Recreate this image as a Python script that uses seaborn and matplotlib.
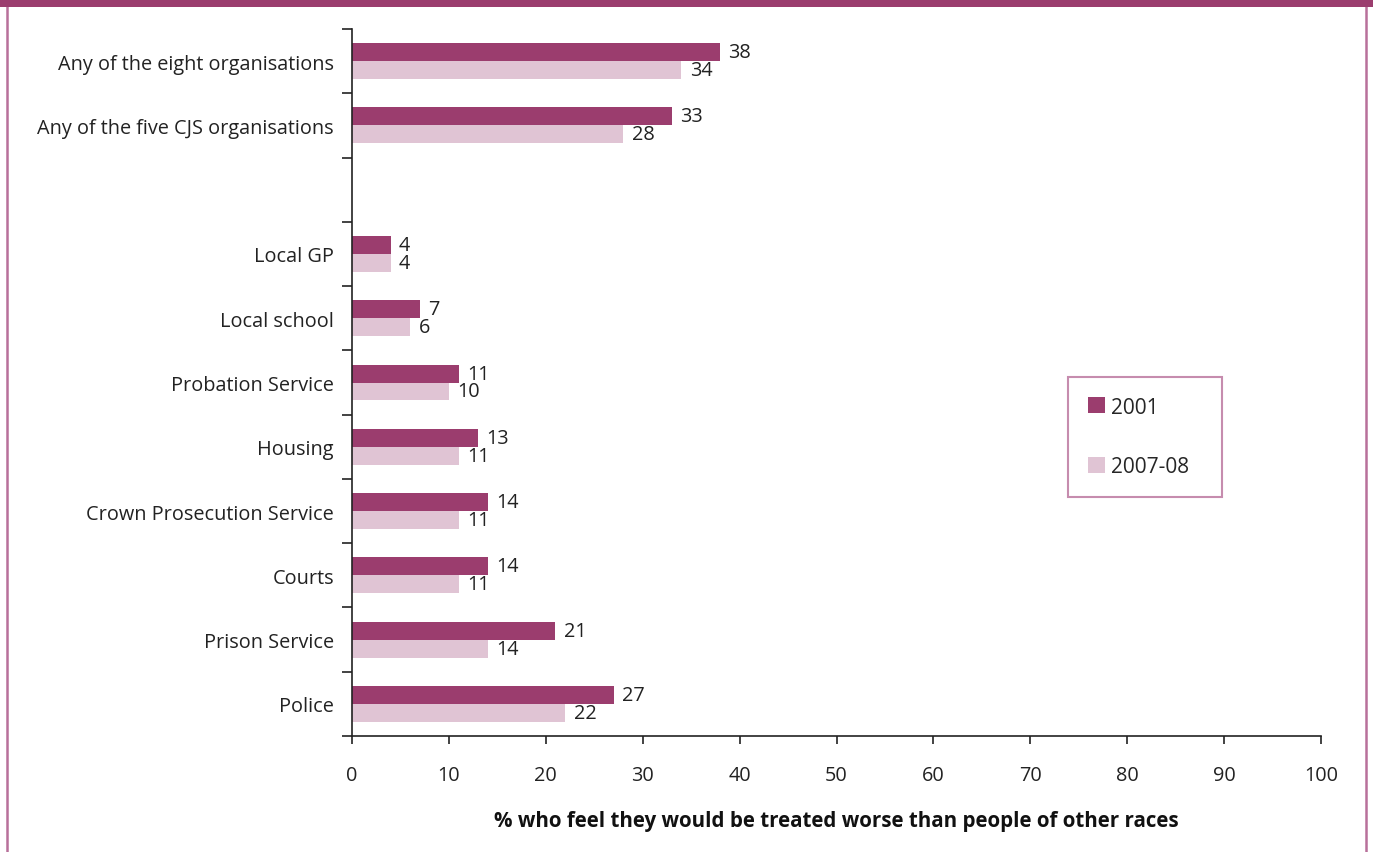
import matplotlib
matplotlib.use("Agg")
import matplotlib.pyplot as plt
from matplotlib.patches import Rectangle
from matplotlib.lines import Line2D
from matplotlib.ticker import FixedLocator
import seaborn as sns
import pandas as pd

categories = [
    "Any of the eight organisations",
    "Any of the five CJS organisations",
    "",
    "Local GP",
    "Local school",
    "Probation Service",
    "Housing",
    "Crown Prosecution Service",
    "Courts",
    "Prison Service",
    "Police",
]
values_2001 = [38, 33, None, 4, 7, 11, 13, 14, 14, 21, 27]
values_2007 = [34, 28, None, 4, 6, 10, 11, 11, 11, 14, 22]
series = ["2001", "2007-08"]
xticks = [0, 10, 20, 30, 40, 50, 60, 70, 80, 90, 100]
xlabel = "% who feel they would be treated worse than people of other races"

dark = "#9B3D6E"
light = "#E0C4D4"
frame_col = "#B8709A"

rows = []
for c, a, b in zip(categories, values_2001, values_2007):
    if a is not None:
        rows.append({"cat": c, "series": series[0], "val": a})
    if b is not None:
        rows.append({"cat": c, "series": series[1], "val": b})
df = pd.DataFrame(rows)

sns.set_theme(style="white")
plt.rcParams["font.family"] = ["Open Sans", "DejaVu Sans"]

fig = plt.figure(figsize=(13.73, 8.53), dpi=100)
ax = fig.add_axes([352 / 1373, 1 - 737 / 853, (1321 - 352) / 1373, (737 - 30) / 853])

sns.barplot(data=df, x="val", y="cat", hue="series", order=categories,
            hue_order=series, palette=[dark, light], orient="h",
            width=0.56, gap=0, saturation=1, ax=ax, legend=True,
            errorbar=None, linewidth=0)

for cont in ax.containers:
    ax.bar_label(cont, fmt="{:.0f}", padding=6, fontsize=14.3, color="#222222")

ax.set_xlim(0, 100)
ax.set_ylim(len(categories) - 0.5, -0.5)
ax.set_xticks(xticks)
ax.set_xticklabels([str(t) for t in xticks])
ax.yaxis.set_minor_locator(FixedLocator([i - 0.5 for i in range(len(categories) + 1)]))
ax.tick_params(axis="y", which="major", length=0, pad=13, labelsize=14.3, labelcolor="#222222")
ax.tick_params(axis="y", which="minor", length=7, width=1.2, color="#222222", left=True, direction="out")
ax.tick_params(axis="x", which="major", length=6, width=1.2, color="#222222", bottom=True,
               direction="out", pad=15, labelsize=14.3, labelcolor="#222222")
ax.set_ylabel("")
ax.set_xlabel(xlabel, fontsize=14.8, fontweight="bold", color="#111111", labelpad=18)

for s in ["top", "right"]:
    ax.spines[s].set_visible(False)
for s in ["left", "bottom"]:
    ax.spines[s].set_color("#222222")
    ax.spines[s].set_linewidth(1.2)

handles, labels = ax.get_legend_handles_labels()
leg = ax.legend(handles, labels, loc="upper left",
                bbox_to_anchor=(0.739, 0.342, 0.159, 0.166), mode="expand",
                fontsize=15, handlelength=0.8, handleheight=0.8, handletextpad=0.3,
                labelspacing=1.85, borderpad=0.95, borderaxespad=0, fancybox=False,
                frameon=True, title=None)
leg.get_frame().set_edgecolor(frame_col)
leg.get_frame().set_linewidth(1.5)

# outer frame
fig.patches.append(Rectangle((0, 1 - 8 / 853), 1, 8 / 853, transform=fig.transFigure,
                             facecolor=dark, edgecolor="none", zorder=10))
fig.lines.append(Line2D([7 / 1373, 7 / 1373], [0, 1], transform=fig.transFigure,
                        color=frame_col, linewidth=1.8))
fig.lines.append(Line2D([1366 / 1373, 1366 / 1373], [0, 1], transform=fig.transFigure,
                        color=frame_col, linewidth=1.8))

fig.savefig("out.png", dpi=100)
